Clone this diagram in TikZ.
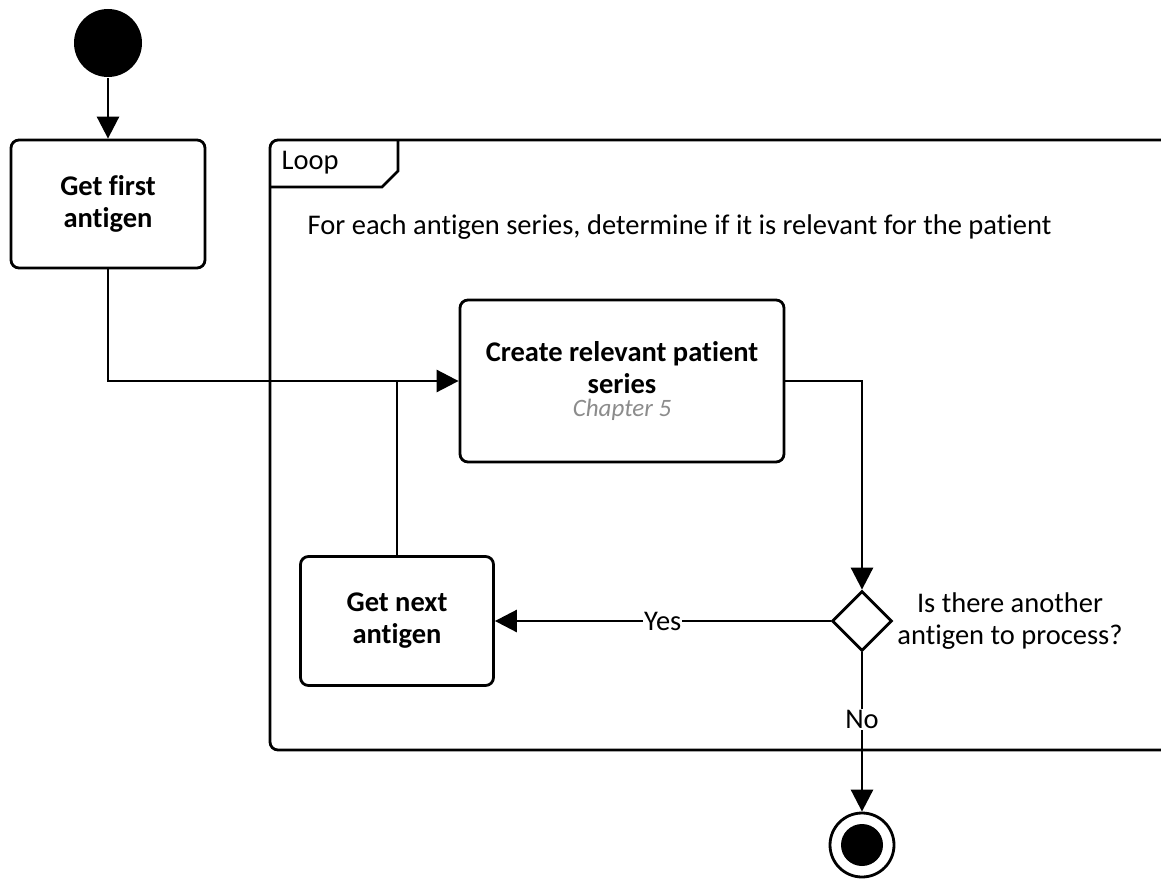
\documentclass[tikz,border=0pt]{standalone}
\usepackage{fontspec}
\setmainfont{Carlito}[Ligatures=NoCommon]
\usetikzlibrary{shapes.geometric,arrows.meta}
\begin{document}
\begin{tikzpicture}[x=1pt,y=-1pt,
  line width=2.8pt,
  every node/.style={font=\fontsize{28.5}{32}\selectfont},
  act/.style={draw,rounded corners=8pt,align=center,font=\fontsize{28.5}{32}\selectfont\bfseries,inner sep=0pt},
  flow/.style={-{Triangle[length=22pt,width=22pt]}},
  lbl/.style={fill=white,inner sep=1pt}]
\useasboundingbox (0,0) rectangle (1161,880);
\fill[white] (0,0) rectangle (1161,880);
% loop frame
\draw[rounded corners=8pt] (1170,140) -- (270,140) -- (270,750) -- (1170,750);
\draw (270,187) -- (382,187) -- (398,171) -- (398,140);
\node[anchor=west] (looplbl) at (277,163) {Loop};
\node[anchor=west] (loopdesc) at (303,227) {For each antigen series, determine if it is relevant for the patient};
% nodes
\node[circle,fill=black,minimum size=68pt,inner sep=0pt] (start) at (108,43) {};
\node[act,minimum width=194pt,minimum height=128pt] (first) at (108,204) {Get first\\antigen};
\node[act,minimum width=324pt,minimum height=162pt] (create) at (622,381)
  {Create relevant patient\\series\\[-9pt]{\fontsize{25}{28}\selectfont\normalfont\itshape\color{black!45}Chapter 5}};
\node[act,minimum width=193pt,minimum height=129pt] (next) at (397,621) {Get next\\antigen};
\node[diamond,draw,minimum width=60pt,minimum height=60pt,inner sep=0pt] (dec) at (862,621) {};
\node[align=center,anchor=west,inner sep=0pt] (q) at (896,621) {Is there another\\antigen to process?};
\node[circle,draw,minimum size=64pt,inner sep=0pt] (end) at (862,845) {};
\node[circle,fill=black,minimum size=42pt,inner sep=0pt] (endin) at (end.center) {};
\coordinate (j) at (next.north |- create.west);
% connectors
\draw[flow] (start) -- (first);
\draw[flow] (first.south) |- (create.west);
\draw (next.north) -- (j);
\draw[flow] (create.east) -| (dec.north);
\draw[flow] (dec.west) -- node[lbl] (yes) {Yes} (next.east);
\draw[flow] (dec.south) -- node[lbl,pos=0.42] (no) {No} (end.north);
\end{tikzpicture}
\end{document}
